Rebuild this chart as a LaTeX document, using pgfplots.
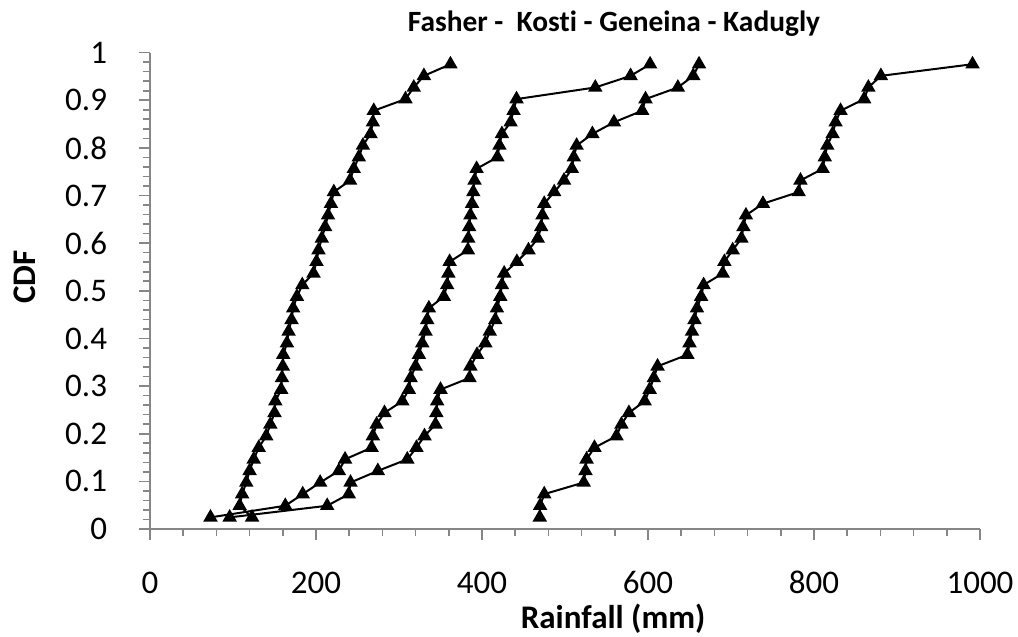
\documentclass[border=0pt]{standalone}
\usepackage{fontspec}
\setmainfont{Carlito}[Ligatures=NoCommon]
\usepackage{pgfplots}
\pgfplotsset{compat=1.18}
\usepackage{pgfplotstable}

\definecolor{axisgray}{RGB}{134,134,134}

% CDF = i/41, rainfall in mm
\pgfplotstableread{
i cdf fasher kosti geneina kadugly
1 0.0244 123 72.9 96 469.6
2 0.0488 108 163 213.5 470
3 0.0732 111 184 239.5 475
4 0.0976 116 205 241.6 522.6
5 0.1220 120 227.5 274.5 524.7
6 0.1463 125 235 310 526
7 0.1707 131 267 321 535.5
8 0.1951 140 268.5 330.7 562
9 0.2195 145 273 344 568
10 0.2439 150 282.5 345 577
11 0.2683 151 304 346 596
12 0.2927 158 311.8 350 602
13 0.3171 159 314 385 607
14 0.3415 160 320 386 611.5
15 0.3659 160.5 324 394 647.5
16 0.3902 165 328 404 650
17 0.4146 167 332 409.4 653
18 0.4390 170.5 334 416 656
19 0.4634 172.5 336 418 659
20 0.4878 177 354 422 664
21 0.5122 183.5 358 424 667
22 0.5366 197 359.5 426.7 690
23 0.5610 200.6 361 442 692
24 0.5854 203 383 456 702
25 0.6098 207 383.5 467.2 712.6
26 0.6341 211 384.5 471.3 715
27 0.6585 214.5 386 472.8 718
28 0.6829 218 388 475 738.5
29 0.7073 221.5 389.5 487 781.6
30 0.7317 241 391 498.8 783.7
31 0.7561 245.5 393.5 508.3 810.4
32 0.7805 251.6 418.5 510.6 813
33 0.8049 256.5 421 514 816
34 0.8293 265.7 424 533 822.4
35 0.8537 268.5 434.5 559 826
36 0.8780 269.6 438 593 832
37 0.9024 307.8 441.6 597 860.4
38 0.9268 317.8 536.5 636 865.5
39 0.9512 330 579 654.5 880.6
40 0.9756 362 602.5 661.5 991
}\cdfdata

\begin{document}
\begin{tikzpicture}
\path[use as bounding box] (-75pt,-54pt) rectangle (434pt,264.5pt);
\begin{axis}[
    at={(0,0)}, anchor=south west,
    scale only axis,
    width=415pt, height=238.2pt,
    xmin=0, xmax=1000, ymin=0, ymax=1,
    axis x line=bottom, axis y line=left,
    axis line style={-, draw=axisgray, line width=0.8pt},
    xtick={0,200,400,600,800,1000}, minor x tick num=4,
    ytick={0,0.1,0.2,0.3,0.4,0.5,0.6,0.7,0.8,0.9,1}, minor y tick num=4,
    tick align=outside,
    major tick length=5.3pt, minor tick length=3.5pt,
    tick style={draw=axisgray, line width=0.8pt},
    /pgf/number format/assume math mode=true,
    /pgf/number format/1000 sep={},
    ticklabel style={font=\fontsize{16.5}{18}\selectfont, inner sep=0pt},
    xticklabel style={anchor=base, yshift=-27pt},
    yticklabel style={anchor=east, xshift=-16pt},
    clip=false,
]
\addplot[black, line width=1pt, mark=triangle*, mark size=3.2pt, mark options={solid, fill=black}] table[x=fasher, y=cdf] {\cdfdata};
\addplot[black, line width=1pt, mark=triangle*, mark size=3.2pt, mark options={solid, fill=black}] table[x=kosti, y=cdf] {\cdfdata};
\addplot[black, line width=1pt, mark=triangle*, mark size=3.2pt, mark options={solid, fill=black}] table[x=geneina, y=cdf] {\cdfdata};
\addplot[black, line width=1pt, mark=triangle*, mark size=3.2pt, mark options={solid, fill=black}] table[x=kadugly, y=cdf] {\cdfdata};

\node[anchor=base, font=\bfseries\fontsize{14.7}{16}\selectfont] at (axis description cs:0.559,1.044) {Fasher -\ \ Kosti - Geneina - Kadugly};
\node[anchor=base, font=\bfseries\fontsize{16.5}{18}\selectfont] at (axis description cs:0.558,-0.208) {Rainfall (mm)};
\node[rotate=90, font=\bfseries\fontsize{16.5}{18}\selectfont] at (axis description cs:-0.1506,0.529) {CDF};
\end{axis}
\end{tikzpicture}
\end{document}
